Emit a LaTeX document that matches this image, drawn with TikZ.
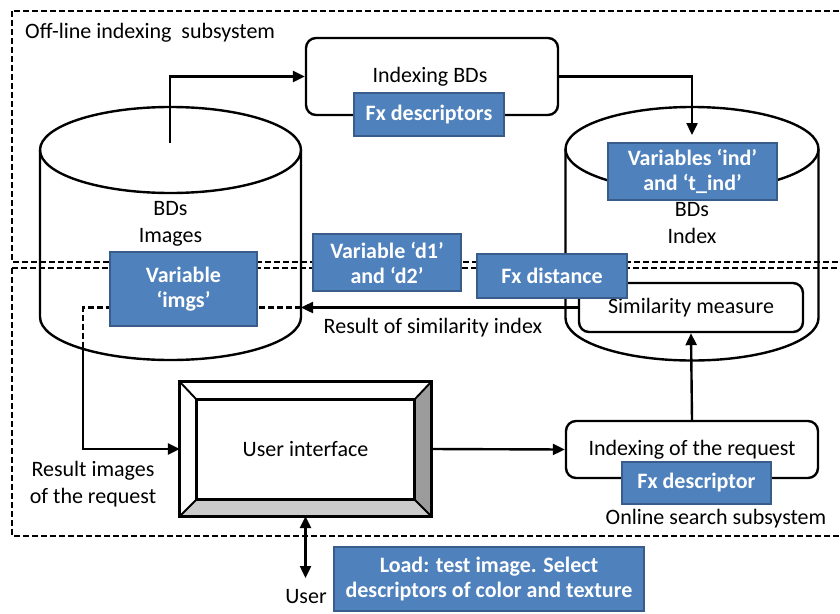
\documentclass[tikz,border=0pt]{standalone}
\usepackage{fontspec}
\setmainfont{Carlito}
\usetikzlibrary{arrows.meta}
\definecolor{boxblue}{HTML}{4F81BD}
\definecolor{boxedge}{HTML}{385D8A}
\definecolor{bevdark}{HTML}{9C9C9C}
\definecolor{bevlight}{HTML}{CBCBCB}
\begin{document}
\begin{tikzpicture}[x=1pt,y=-1pt,
  font=\fontsize{22}{26.5}\selectfont,
  line width=2.4pt,
  region/.style={draw, line width=2.6pt, dash pattern=on 6pt off 3pt},
  proc/.style={draw, fill=white, rounded corners=10pt, inner sep=0pt},
  bluebox/.style={draw=boxedge, fill=boxblue, line width=1.6pt, text=white,
    font=\fontsize{22}{25}\selectfont\bfseries, align=center, inner sep=0pt},
  lbl/.style={inner sep=0pt, align=center},
  arr/.style={-{Triangle[length=12pt,width=11pt]}},
  dblarr/.style={{Triangle[length=12pt,width=11pt]}-{Triangle[length=12pt,width=11pt]}},
  hidden/.style={dash pattern=on 6pt off 3pt},
]
\useasboundingbox (0,0) rectangle (840,613);

% subsystem regions
\draw[region] (12,11) rectangle (845,262);
\draw[region] (12,268) rectangle (845,536);
\node[lbl, anchor=west] (offline) at (24,33) {Off-line indexing~ subsystem};
\node[lbl] (online) at (716,519) {Online search subsystem};

% image database cylinder
\draw (40,150) -- (40,317)
  arc[start angle=180, end angle=360, x radius=130.5pt, y radius=43pt]
  -- (301,150);
\draw (170.5,150) ellipse[x radius=130.5pt, y radius=43pt];
\node[lbl] (bdimg) at (170.5,224) {BDs\\Images};

% index database cylinder
\draw (565.5,149) -- (565.5,318)
  arc[start angle=180, end angle=360, x radius=126.5pt, y radius=42.5pt]
  -- (818.5,149);
\draw (692,149) ellipse[x radius=126.5pt, y radius=42pt];
\node[lbl] (bdidx) at (692,223) {BDs\\Index};

% processes
\node[proc, minimum width=252, minimum height=77] (ixbd) at (432,76.5) {};
\node[lbl] at (430,77) {Indexing BDs};
\node[proc, minimum width=224, minimum height=49] (sim) at (691,307.5) {Similarity measure};
\node[proc, minimum width=252, minimum height=57] (ixreq) at (692,449.5) {};
\node[lbl] at (692,450) {Indexing of the request};

% user interface (bevelled frame)
\node[minimum width=249, minimum height=132, inner sep=0pt] (ui) at (305.5,449) {};
\coordinate (i1) at ([xshift=17pt,yshift=-18pt]ui.north west);
\coordinate (i2) at ([xshift=-17pt,yshift=-18pt]ui.north east);
\coordinate (i3) at ([xshift=-17pt,yshift=17pt]ui.south east);
\coordinate (i4) at ([xshift=17pt,yshift=17pt]ui.south west);
\fill[bevdark] (ui.north east) -- (ui.south east) -- (i3) -- (i2) -- cycle;
\fill[bevlight] (ui.south west) -- (ui.south east) -- (i3) -- (i4) -- cycle;
\draw[line width=2.8pt] (ui.north west) rectangle (ui.south east);
\draw[line width=2.8pt] (i1) rectangle (i3);
\draw[line width=1.9pt] (ui.north west) -- (i1) (ui.north east) -- (i2)
  (ui.south east) -- (i3) (ui.south west) -- (i4);
\node[lbl] at (ui.center) {User interface};

% connectors
\coordinate (lctop) at (170,143);
\coordinate (rctop) at (692,135);
\coordinate (lcwall) at (301,307.5);
\coordinate (bend) at (83,307.5);
\coordinate (lcbase) at (83,349);
\coordinate (user) at (305.5,578);
\draw[arr] (lctop) |- (ixbd.west);
\draw[arr] (ixbd.east) -| (rctop);
\draw[arr] (sim.west) -- (lcwall);
\draw[hidden] (lcwall) -- (bend) -- (lcbase);
\draw[arr] (lcbase) |- (ui.west);
\draw[arr] (ui.east) -- (ixreq.west);
\draw[arr] (ixreq.north) -- (sim.south);
\draw[dblarr] (ui.south) -- (user);

\node[lbl] (simres) at (433,328) {Result of similarity index};
\node[lbl] (imgres) at (93,484) {Result images\\of the request};
\node[lbl] (usr) at (306,597) {User};

% variable and function tags
\node[bluebox, minimum width=150, minimum height=43] (fxdesc) at (429,114.5) {Fx descriptors};
\node[bluebox, minimum width=169, minimum height=57] (varind) at (692.5,171.5) {Variables ‘ind’\\and ‘t\_ind’};
\node[bluebox, minimum width=147, minimum height=74] (varimgs) at (183.5,289) {Variable\\‘imgs’};
\node[bluebox, minimum width=148, minimum height=57] (vard) at (387,262.5) {Variable ‘d1’\\and ‘d2’};
\node[bluebox, minimum width=150, minimum height=44] (fxdist) at (552,276) {Fx distance};
\node[bluebox, minimum width=149, minimum height=42] (fxreq) at (696.5,483) {Fx descriptor};
\node[bluebox, minimum width=310, minimum height=64] (load) at (489,579) {Load: test image. Select\\descriptors of color and texture};
\end{tikzpicture}
\end{document}
